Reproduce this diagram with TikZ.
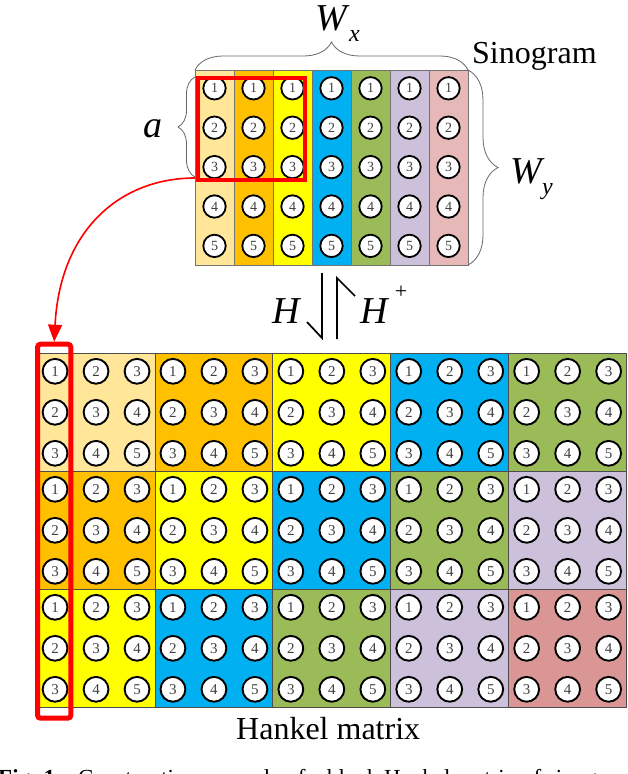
\documentclass[tikz,border=0pt]{standalone}
\usepackage{fontspec}
\setmainfont{Liberation Serif}
\usetikzlibrary{arrows.meta,decorations.pathreplacing}
\definecolor{sc0}{HTML}{FFE699}
\definecolor{sc1}{HTML}{FFC000}
\definecolor{sc2}{HTML}{FFFF00}
\definecolor{sc3}{HTML}{00B0F0}
\definecolor{sc4}{HTML}{9BBB59}
\definecolor{sc5}{HTML}{CCC0DA}
\definecolor{sc6}{HTML}{E6B9B8}
\definecolor{hk0}{HTML}{FFE699}
\definecolor{hk1}{HTML}{FFC000}
\definecolor{hk2}{HTML}{FFFF00}
\definecolor{hk3}{HTML}{00B0F0}
\definecolor{hk4}{HTML}{9BBB59}
\definecolor{hk5}{HTML}{CCC0DA}
\definecolor{hk6}{HTML}{DA9694}
\definecolor{digit}{HTML}{404040}
\definecolor{redline}{HTML}{FF0000}
\tikzset{
  sinocol/.style={draw=black!55, line width=0.8pt, minimum width=39pt, minimum height=195pt, inner sep=0pt},
  hkblock/.style={draw=black!70, line width=0.9pt, minimum width=117.9pt, minimum height=118pt, inner sep=0pt},
  sdot/.style={circle, draw=black, line width=1.8pt, fill=white, minimum size=22.4pt, inner sep=0pt,
    font=\fontsize{14}{14}\selectfont, text=digit},
  hdot/.style={circle, draw=black, line width=1.9pt, fill=white, minimum size=24.8pt, inner sep=0pt,
    font=\fontsize{15}{15}\selectfont, text=digit},
  redbox/.style={draw=redline, line width=4pt, inner sep=0pt},
  redarrow/.style={draw=redline, line width=1.6pt, -{Triangle[length=17pt,width=14pt]}},
  bracestyle/.style={draw=black!60, line width=0.8pt, decorate},
  harp/.style={draw=black, line width=1.7pt},
  bigit/.style={inner sep=0pt, font=\fontsize{38}{38}\selectfont\itshape},
  subit/.style={inner sep=0pt, font=\fontsize{24}{24}\selectfont\itshape},
  lbl/.style={inner sep=0pt, font=\fontsize{32}{32}\selectfont},
}
\begin{document}
\begin{tikzpicture}[x=1pt,y=-1pt]
\clip (0,0) rectangle (628,774);
\useasboundingbox (0,0) rectangle (628,774);
% sinogram
\foreach \c in {0,...,6} {
  \node[sinocol, fill=sc\c] (s\c) at ({214.5+39*\c},167.5) {};
  \foreach \r in {1,...,5}
    \node[sdot] (s\c-\r) at ({214.5+39*\c},{88.3+39.4*(\r-1)}) {\r};
}
% Hankel matrix
\foreach \br in {0,1,2} {
  \foreach \bc in {0,...,4} {
    \pgfmathtruncatemacro{\idx}{\br+\bc}
    \node[hkblock, fill=hk\idx] (b\br\bc) at ({96.05+117.9*\bc},{412.3+118*\br}) {};
    \foreach \i in {0,1,2} {
      \foreach \j in {0,1,2} {
        \pgfmathtruncatemacro{\num}{\i+\j+1}
        \node[hdot] (h\br\bc\i\j) at ({96.05+117.9*\bc+41*(\j-1)},{412.3+118*\br+41*(\i-1)}) {\num};
      }
    }
  }
}
% red boxes
\node[redbox, minimum width=107pt, minimum height=102pt] (ra) at (251.5,129) {};
\node[redbox, line width=5pt, rounded corners=3pt, minimum width=33.3pt, minimum height=374pt] (rb) at (54.2,531.2) {};
\coordinate (astart) at (195,178);
\draw[redarrow] (astart) .. controls (120,178) and (60,230) .. (rb.north);
% braces
\coordinate (bx1) at (195,70); \coordinate (bx2) at (468,70);
\draw[bracestyle, decoration={brace, amplitude=28pt}] (bx1) -- (bx2);
\coordinate (ba1) at (195,177); \coordinate (ba2) at (195,77);
\draw[bracestyle, decoration={brace, amplitude=17pt}] (ba1) -- (ba2);
\coordinate (by1) at (468,70); \coordinate (by2) at (468,265);
\draw[bracestyle, decoration={brace, amplitude=30pt}] (by1) -- (by2);
% labels
\node[bigit, anchor=base west] (wx) at (315,30) {W};
\node[subit, anchor=base west] (wxs) at (349,41) {x};
\node[bigit, anchor=base west] (la) at (143,137) {a};
\node[bigit, anchor=base west] (wy) at (510,183) {W};
\node[subit, anchor=base west] (wys) at (542,194) {y};
\node[lbl, anchor=base west] (sino) at (472,63) {Sinogram};
\node[lbl, anchor=base west] (hank) at (236,739) {Hankel matrix};
% H operators
\node[bigit, anchor=base west] (hl) at (272,323) {H};
\node[bigit, anchor=base west] (hr) at (360,323) {H};
\node[inner sep=0pt, font=\fontsize{22}{22}\selectfont] (hp) at (401,292) {+};
\coordinate (hl1) at (322,273); \coordinate (hl2) at (322,338); \coordinate (hl3) at (307,322);
\draw[harp] (hl1) -- (hl2) -- (hl3);
\coordinate (hr1) at (337,339); \coordinate (hr2) at (337,278); \coordinate (hr3) at (355,296);
\draw[harp] (hr1) -- (hr2) -- (hr3);
% caption (clipped at the bottom edge, as in the reference)
\node[inner sep=0pt, anchor=base west, font=\fontsize{23}{23}\selectfont] (cap) at (-2,785)
  {\textbf{Fig. 1}\quad Construction example of a block Hankel matrix of sinogram ($H$)};
\end{tikzpicture}
\end{document}
